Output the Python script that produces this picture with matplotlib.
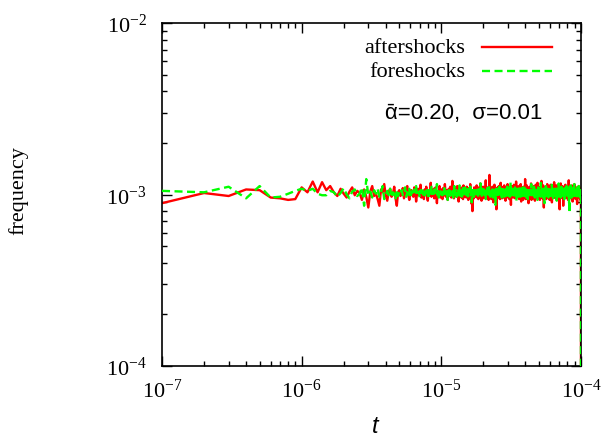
import numpy as np
import matplotlib
matplotlib.use("Agg")
import matplotlib.pyplot as plt

plt.rcParams['font.family'] = ['Liberation Serif', 'DejaVu Serif']
plt.rcParams['mathtext.fontset'] = 'custom'
plt.rcParams['mathtext.rm'] = 'Liberation Serif'
plt.rcParams['mathtext.it'] = 'Liberation Serif:italic'

# linear bins of width 1e-7 s, 1000 bins up to 1e-4
t_bins = np.arange(1, 1001) * 1e-7

# frequencies in units of 1e-5 (dense part estimated)
after_str = """
89 102 98 107 106 96 95 93 94 110 103 119 103 118 106 112 103 98 108 101 96 104 110 99 105
102 93 107 97 84 104 112 98 101 94 86 107 103 115 99 92 104 108 97 101 111 95 86 103 106
98 104 109 95 101 107 112 99 93 103 106 100 97 110 104 91 102 108 99 105 114 96 101 103 94
107 100 111 98 92 104 106 101 117 97 103 99 108 95 102 110 100 89 105 103 98 112 101 96 107
103 94 109 101 99 115 104 97 102 106 93 100 108 103 98 111 105 96 101 120 99 104 95 107 102
100 109 97 103 112 98 105 91 102 107 104 99 110 96 101 106 100 94 113 103 97 108 102 99 105
96 111 103 100 107 93 104 109 98 102 115 101 97 105 88 103 80 99 106 102 95 110 104 100 97
108 102 99 113 96 104 101 107 94 103 110 98 105 100 116 97 102 106 92 109 103 99 104 111 101
95 106 103 100 97 109 104 121 99 102 107 96 101 110 98 105 103 93 108 100 130 97 112 102 106
99 103 94 108 105 101 97 111 100 104 90 107 102 98 114 103 96 105 109 101 99 106 82 104 100
107 102 110 97 103 99 105 112 96 101 108 100 94 106 103 117 98 102 105 99 111 95 104 101 107
103 96 109 100 105 98 113 102 97 106 101 104 92 108 103 99 110 105 100 96 107 102 115 98 104
101 108 97 103 111 99 94 105 102 109 100 106 98 103 87 107 104 101 112 97 105 99 103 110 100
96 104 107 102 99 114 101 97 106 103 108 95 102 110 100 104 98 119 103 101 96 107 105 99 111
102 98 105 101 109 96 103 107 100 112 94 104 99 106 102 97 108 103 101 115 98 105 91 104 107
100 110 103 97 105 101 108 99 104 93 106 102 111 98 103 100 107 96 104 109 101 99 123 102 97
105 101 94 108 103 99 106 102 113 97 104 100 109 95 102 107 101 98 105 104 89 110 103 100 106
98 107 102 104 99 111 96 103 108 101 105 97 102 116 100 104 93 107 103 99 110 102 96 105 101
109 100 104 97 106 102 95 108 103 112 99 101 105 98 107 104 100 92 109 103 97 106 101 114 102
99 104 108 101 96 105 103 110 98 102 106 100 117 97 104 101 108 94 103 107 99 105 102 96 111
103 97 101 109 104 100 106 93 102 108 105 99 103 111 96 101 107 102 98 104 120 100 105 97 103
106 101 98 104 110 95 103 107 100 102 113 97 105 101 99 108 84 104 102 106 100 109 98 103 101
97 105 103 100 108 102 96 111 104 99 106 101 103 94 107 100 105 110 98 102 104 97 115 101 106
102 99 107 104 101 96 109 103 100 106 98 112 102 105 97 103 108 101 99 104 93 107 102 110 100
104 108 98 103 100 114 101 97 105 102 107 99 104 96 110 103 101 106 90 104 100 108 102 97 105
101 96 106 102 109 100 104 98 103 111 97 105 101 107 99 102 118 104 100 96 106 103 109 101 98
107 103 100 105 97 102 110 99 104 101 95 108 103 106 100 113 98 102 105 99 104 107 101 94 109
100 105 102 98 107 103 96 104 112 101 99 106 102 108 97 103 100 105 92 110 104 101 98 106 103
105 99 82 110 101 97 106 102 104 100 108 95 103 107 101 116 99 104 102 98 105 100 111 103 97
103 108 100 96 104 102 109 101 98 105 103 99 112 100 106 97 103 101 107 104 86 102 108 100 105
99 104 101 107 103 98 105 110 100 102 96 106 104 101 109 103 99 105 102 108 97 103 114 100 104
106 101 97 103 108 100 105 102 99 111 104 98 103 106 101 96 107 102 104 100 110 103 97 105 101
102 107 104 99 101 106 93 105 103 109 100 102 98 104 107 101 121 103 99 105 102 97 106 104 100
108 100 103 105 98 102 110 101 104 96 106 103 100 108 102 99 105 112 101 97 104 103 107 100 95
104 99 106 102 101 107 103 98 105 100 113 102 97 104 109 101 103 99 106 102 91 105 100 108 103
100 105 102 108 97 103 101 106 99 104 102 110 100 96 105 103 107 101 98 104 100 115 102 106 99
103 101 107 99 104 100 106 102 111 98 103 105 101 94 108 102 104 100 106 97 103 109 101 105 102
97 104 102 106 100 109 103 99 105 101 107 102 88 104 100 106 103 98 110 102 105 101 97 104 108
101 106 103 100 104 98 107 102 105 112 99 103 101 106 97 104 102 108 100 103 96 105 101 107 104
99 103 105 101 108 100 97 104 102 106 103 110 98 101 105 100 104 93 106 102 99 103 107 101
"""

fore_str = """
105 103 111 95 112 96 97 101 105 108 105 108 101 99 99 105 103 97 102 109 100 95 104 107 98
101 110 86 123 99 104 96 106 101 108 97 103 112 94 100 105 99 108 96 103 101 93 107 98 104
101 106 99 104 110 97 103 100 108 95 102 105 99 107 103 112 98 101 104 96 106 102 109 100 103
97 105 102 108 100 94 106 103 99 111 101 104 98 107 102 100 105 115 99 103 96 108 101 104 100
106 99 103 101 109 97 104 102 107 100 93 105 103 110 98 102 106 101 99 104 108 96 103 112 100
103 108 101 97 105 102 99 106 100 113 104 98 102 107 101 95 103 109 100 105 102 97 110 101 104
99 102 107 104 100 96 108 103 101 105 111 99 104 102 90 106 103 100 108 101 97 104 106 102 109
105 100 103 98 106 102 110 101 97 104 107 103 99 105 101 116 100 104 102 96 108 103 100 106 98
102 107 101 104 99 105 103 94 108 100 106 102 109 101 98 104 103 107 100 112 99 102 105 97 104
108 101 99 105 103 100 107 102 96 110 104 101 103 98 106 100 105 102 87 104 108 101 103 99 106
100 104 106 101 98 103 109 100 105 102 114 97 103 106 101 99 104 102 108 100 96 105 103 107 101
104 99 102 107 105 101 97 103 110 100 106 102 98 104 101 108 103 95 105 102 100 111 104 99 103
106 102 100 104 98 109 103 101 106 97 104 102 118 100 105 103 99 107 101 104 96 102 108 103 100
101 105 103 99 107 102 104 100 96 106 103 110 101 98 104 102 107 100 105 92 103 101 106 104 99
103 100 108 102 105 101 97 104 106 100 103 112 99 102 105 101 108 103 97 104 100 106 102 109 101
98 104 101 106 103 100 110 102 97 105 101 103 107 99 104 102 100 106 113 101 98 103 105 100 104
105 102 99 103 107 101 104 96 106 102 100 108 103 101 105 94 102 107 104 100 103 110 99 104 102
100 106 103 101 98 105 102 109 100 104 101 97 106 103 115 101 99 104 102 107 100 103 96 105 101
104 101 107 99 103 100 106 102 105 98 111 103 101 104 100 107 102 96 104 101 106 103 99 108 102
102 99 104 106 101 103 97 105 100 108 102 104 93 106 101 103 99 105 110 102 100 104 107 101 98
106 103 100 102 109 101 104 99 103 106 100 105 102 97 104 117 101 103 100 106 102 99 105 103 108
101 104 102 98 105 100 107 103 101 104 96 110 102 105 100 103 106 101 99 104 102 108 89 103 100
103 107 101 104 99 106 102 100 105 103 112 98 104 101 106 100 103 97 105 102 108 101 104 100 106
99 102 105 101 108 103 100 104 96 106 102 101 107 103 99 104 110 100 102 105 101 98 106 103 104
105 100 103 107 101 98 104 102 106 100 103 109 101 104 97 105 102 114 100 103 106 101 99 104 102
102 106 100 104 103 95 107 101 105 102 99 104 108 100 103 101 106 102 98 110 103 100 105 101 104
100 103 108 101 104 99 102 106 100 111 103 97 105 102 104 101 107 100 103 92 106 104 101 103 105
104 101 99 106 102 105 100 103 108 101 97 104 102 106 103 100 116 101 104 99 105 102 107 100 103
101 105 103 100 107 102 98 104 101 106 103 109 100 102 105 96 104 103 101 107 100 104 102 111 99
106 102 104 101 99 105 103 100 108 102 104 97 106 101 103 105 100 110 102 98 104 101 106 103 100
103 99 106 104 101 102 107 100 105 103 94 106 101 104 102 109 100 103 105 101 98 104 107 102 101
100 105 102 108 103 101 104 97 106 100 103 102 112 101 105 99 104 102 106 100 103 108 101 96 104
105 101 103 100 106 104 99 102 107 101 105 103 100 110 102 97 104 106 101 103 88 105 102 100 107
102 104 78 106 101 103 108 99 104 102 105 100 103 107 101 104 98 102 113 100 106 103 101 105 99
104 100 107 102 105 101 103 96 106 104 100 102 109 101 104 103 99 105 102 107 100 103 101 106 102
101 106 103 99 104 102 110 100 105 101 103 107 98 104 102 100 106 103 101 104 115 99 103 105 100
103 102 105 101 98 106 104 100 103 109 101 102 105 97 104 103 101 107 100 102 106 104 99 103 101
106 100 104 102 107 101 103 105 99 104 102 100 108 103 96 105 101 104 110 100 103 102 106 101 104
102 105 101 103 100 106 104 98 107 102 103 101 105 100 104 112 99 103 106 101 102 104 100 105 103
99 104 102 106 101 103 100 105 102 107 94 104 101 103 106 100 104 102 99 105 103 101 106 102
"""

# last bin (t = 1e-4) is almost empty for both curves
last_after = 2
last_fore = 2

aftershocks = np.append(np.array(after_str.split(), dtype=float), last_after) * 1e-5
foreshocks = np.append(np.array(fore_str.split(), dtype=float), last_fore) * 1e-5

lw = 1.7
dash = (0, (3.4, 1.9))

fig = plt.figure(figsize=(6.02, 4.39), dpi=100)
ax = fig.add_axes([162/602, 1-367/439, 419/602, 343/439])

ax.plot(t_bins, aftershocks, color='#ff0000', linewidth=lw, zorder=2)
ax.plot(t_bins, foreshocks, color='#00ff00', linewidth=lw, linestyle=dash, zorder=3)

ax.set_xscale('log')
ax.set_yscale('log')
ax.set_xlim(1e-7, 1e-4)
ax.set_ylim(1e-4, 1e-2)

ax.tick_params(which='both', direction='in', top=True, right=True, labelsize=16)
ax.tick_params(which='major', length=7, width=1.0)
ax.tick_params(which='minor', length=3.5, width=1.0)
ax.tick_params(axis='x', pad=9)
ax.tick_params(axis='y', pad=11)
for s in ax.spines.values():
    s.set_linewidth(1.2)

# key, gnuplot style: text right aligned, sample on the right
ax.text(0.723, 0.930, 'aftershocks', transform=ax.transAxes, ha='right', va='center', fontsize=16)
ax.text(0.723, 0.860, 'foreshocks', transform=ax.transAxes, ha='right', va='center', fontsize=16)
ax.plot([0.764, 0.931], [0.930, 0.930], transform=ax.transAxes, color='#ff0000', linewidth=lw)
ax.plot([0.764, 0.931], [0.860, 0.860], transform=ax.transAxes, color='#00ff00', linewidth=lw,
        linestyle=dash)

ax.text(0.909, 0.738, '\u1fb1=0.20,  \u03c3=0.01', transform=ax.transAxes, ha='right', va='center',
        fontsize=16, family=['Liberation Sans', 'DejaVu Sans'])

fig.text(18/602, 1-191/439, 'frequency', rotation=90, ha='center', va='center', fontsize=16)
fig.text(375/602, 1-427/439, 't', ha='center', va='center', fontsize=17, style='italic',
         family=['Liberation Sans', 'DejaVu Sans'])

plt.savefig('out.png', dpi=100)
